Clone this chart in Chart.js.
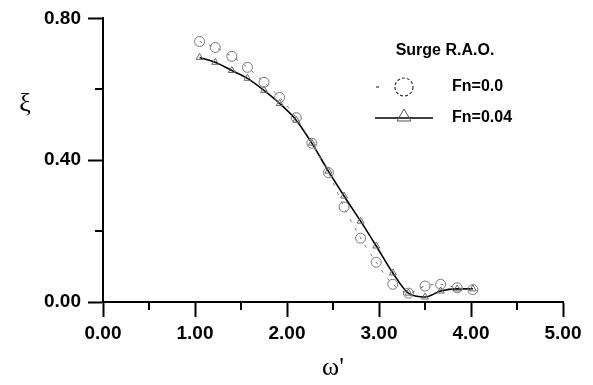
<!DOCTYPE html>
<html>
<head>
<meta charset="utf-8">
<script src="https://cdn.jsdelivr.net/npm/chart.js@4"></script>
<style>
  html, body { margin: 0; padding: 0; background: #fff; }
  #wrap { width: 593px; height: 385px; }
</style>
</head>
<body>
<div id="wrap"><canvas id="c"></canvas></div>
<script>
// surge RAO
const omega = [1.05, 1.22, 1.40, 1.57, 1.75, 1.92, 2.10, 2.27, 2.45, 2.62, 2.80, 2.97, 3.15, 3.32, 3.50, 3.67, 3.85, 4.02];
const xiFn000 = [0.735, 0.718, 0.693, 0.662, 0.620, 0.577, 0.520, 0.448, 0.365, 0.268, 0.180, 0.112, 0.050, 0.025, 0.045, 0.050, 0.040, 0.035];
const xiFn004 = [0.690, 0.676, 0.653, 0.631, 0.597, 0.560, 0.513, 0.448, 0.369, 0.299, 0.228, 0.158, 0.082, 0.025, 0.014, 0.031, 0.037, 0.037];

const legendTitle = 'Surge R.A.O.';
const seriesLabels = ['Fn=0.0', 'Fn=0.04'];
const yTitle = 'ξ';

const FONT = '"Liberation Sans", Arial, sans-serif';
const SERIF = '"Liberation Serif", "Times New Roman", serif';

const isMajorX = v => Math.abs(v - Math.round(v)) < 1e-6;
const isMajorY = v => Math.round(v * 100) % 40 === 0;

const minorTicksPlugin = {
  id: 'minorTicks',
  afterDraw(chart) {
    const { ctx, scales: { x, y } } = chart;
    ctx.save();
    ctx.strokeStyle = '#000';
    ctx.lineWidth = 2;
    x.ticks.forEach(t => {
      if (isMajorX(t.value)) return;
      const px = Math.round(x.getPixelForValue(t.value));
      ctx.beginPath();
      ctx.moveTo(px, y.bottom);
      ctx.lineTo(px, y.bottom + 8);
      ctx.stroke();
    });
    y.ticks.forEach(t => {
      if (isMajorY(t.value)) return;
      const py = Math.round(y.getPixelForValue(t.value));
      ctx.beginPath();
      ctx.moveTo(x.left, py);
      ctx.lineTo(x.left - 8, py);
      ctx.stroke();
    });
    // y axis symbol sits upright, high on the axis
    ctx.fillStyle = '#000';
    ctx.font = '26px ' + SERIF;
    ctx.textAlign = 'center';
    ctx.textBaseline = 'middle';
    ctx.fillText(yTitle, 25, 104);
    ctx.restore();
  }
};

const legendPlugin = {
  id: 'surgeLegend',
  afterDraw(chart) {
    const { ctx } = chart;
    ctx.save();
    ctx.fillStyle = '#000';
    ctx.textBaseline = 'middle';
    ctx.font = 'bold 16px ' + FONT;
    ctx.textAlign = 'center';
    ctx.fillText(legendTitle, 445, 51);

    ctx.textAlign = 'left';
    ctx.fillText(seriesLabels[0], 452, 87);
    ctx.fillText(seriesLabels[1], 452, 118);

    // row 1: dashed line + circle
    ctx.strokeStyle = '#333';
    ctx.lineWidth = 1.2;
    ctx.beginPath();
    ctx.moveTo(376, 87);
    ctx.lineTo(379, 87);
    ctx.stroke();
    ctx.setLineDash([3, 2]);
    ctx.beginPath();
    ctx.arc(404, 87, 9, 0, Math.PI * 2);
    ctx.stroke();
    ctx.setLineDash([]);

    // row 2: solid line + triangle
    ctx.strokeStyle = '#000';
    ctx.lineWidth = 1.5;
    ctx.beginPath();
    ctx.moveTo(375, 118);
    ctx.lineTo(433, 118);
    ctx.stroke();
    ctx.strokeStyle = '#555';
    ctx.lineWidth = 1;
    ctx.beginPath();
    ctx.moveTo(397, 121);
    ctx.lineTo(404, 109);
    ctx.lineTo(411, 121);
    ctx.closePath();
    ctx.stroke();
    ctx.restore();
  }
};

new Chart(document.getElementById('c'), {
  type: 'line',
  data: {
    datasets: [
      {
        label: seriesLabels[0],
        data: omega.map((w, i) => ({ x: w, y: xiFn000[i] })),
        borderColor: '#777',
        borderWidth: 1,
        borderDash: [3, 7],
        tension: 0.3,
        pointStyle: 'circle',
        pointRadius: 5,
        pointBorderWidth: 1,
        pointBorderColor: '#777',
        pointBackgroundColor: 'rgba(0,0,0,0)'
      },
      {
        label: seriesLabels[1],
        data: omega.map((w, i) => ({ x: w, y: xiFn004[i] })),
        borderColor: '#000',
        borderWidth: 1.6,
        cubicInterpolationMode: 'monotone',
        pointStyle: 'triangle',
        pointRadius: 4,
        pointBorderWidth: 1,
        pointBorderColor: '#666',
        pointBackgroundColor: 'rgba(0,0,0,0)'
      }
    ]
  },
  options: {
    animation: false,
    responsive: true,
    maintainAspectRatio: false,
    layout: { padding: { left: 0, right: 30, top: 17, bottom: 0 } },
    plugins: {
      legend: { display: false },
      tooltip: { enabled: false }
    },
    scales: {
      x: {
        type: 'linear',
        min: 0,
        max: 5,
        afterFit: s => { s.height = 83; },
        border: { color: '#000', width: 2 },
        grid: {
          drawOnChartArea: false,
          tickLength: 15,
          tickWidth: 2,
          tickColor: c => (c.tick && isMajorX(c.tick.value)) ? '#000' : 'rgba(0,0,0,0)'
        },
        ticks: {
          stepSize: 0.5,
          color: '#000',
          padding: 5,
          maxRotation: 0,
          autoSkip: false,
          font: { family: FONT, size: 19, weight: 'bold' },
          callback: v => isMajorX(v) ? v.toFixed(2) : ''
        },
        title: {
          display: true,
          text: "ω'",
          color: '#000',
          padding: { top: 0, bottom: 1 },
          font: { family: SERIF, size: 26 }
        }
      },
      y: {
        min: 0,
        max: 0.8,
        afterFit: s => { s.width = 103; },
        border: { color: '#000', width: 2 },
        grid: {
          drawOnChartArea: false,
          tickLength: 15,
          tickWidth: 2,
          tickColor: c => (c.tick && isMajorY(c.tick.value)) ? '#000' : 'rgba(0,0,0,0)'
        },
        ticks: {
          stepSize: 0.2,
          color: '#000',
          padding: 7,
          autoSkip: false,
          font: { family: FONT, size: 19, weight: 'bold' },
          callback: v => isMajorY(v) ? v.toFixed(2) : ''
        }
      }
    }
  },
  plugins: [minorTicksPlugin, legendPlugin]
});
</script>
</body>
</html>
